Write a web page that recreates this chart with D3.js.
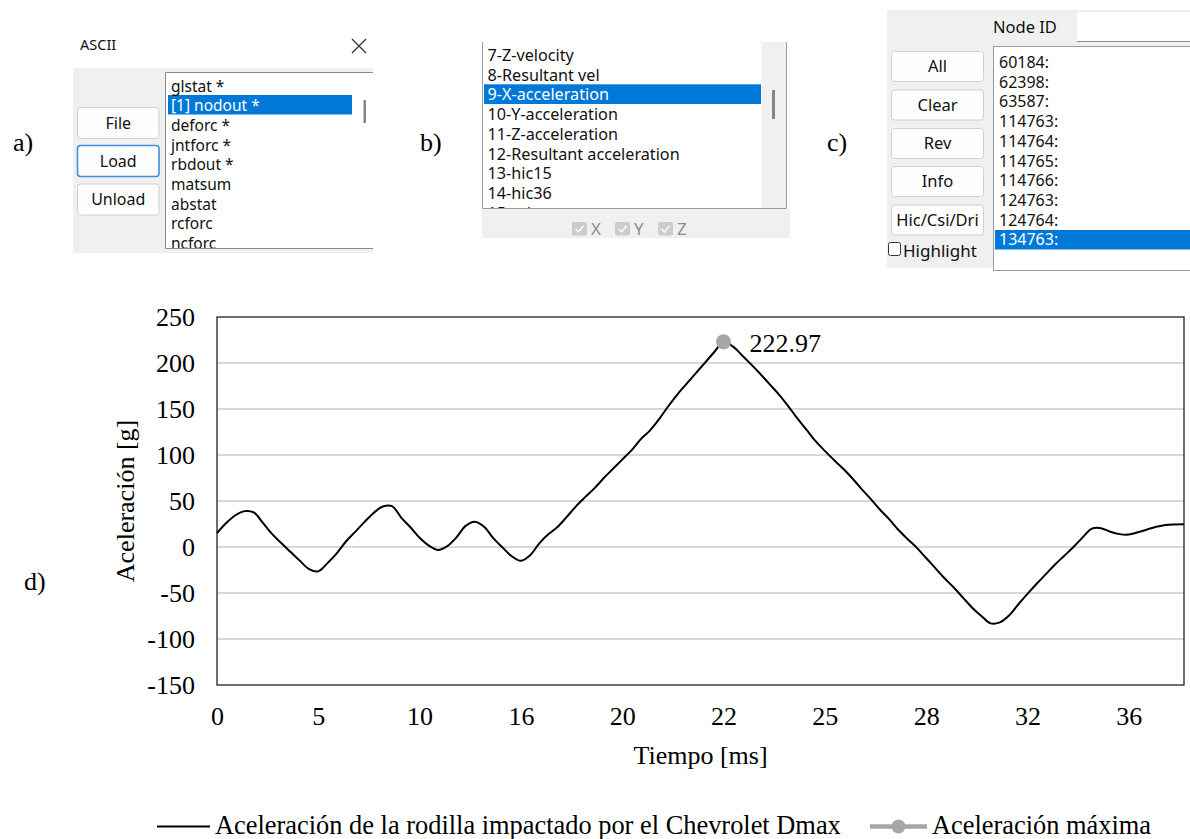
<!DOCTYPE html>
<html>
<head>
<meta charset="utf-8">
<script src="https://cdn.jsdelivr.net/npm/d3@7"></script>
<style>
  html, body { margin: 0; padding: 0; background: #fff; }
  svg { display: block; }
  .ui { font-family: "Noto Sans", "Open Sans", sans-serif; }
  .serif { font-family: "Liberation Serif", "Times New Roman", serif; }
</style>
</head>
<body>
<svg id="fig" width="1190" height="839"></svg>
<script>
// ---- data ----
const asciiFiles = ["glstat *", "[1] nodout *", "deforc *", "jntforc *", "rbdout *", "matsum", "abstat", "rcforc", "ncforc"];
const asciiSelected = 1;
const asciiButtons = ["File", "Load", "Unload"];

const nodoutComponents = ["7-Z-velocity", "8-Resultant vel", "9-X-acceleration", "10-Y-acceleration",
  "11-Z-acceleration", "12-Resultant acceleration", "13-hic15", "14-hic36", "15-csi"];
const componentSelected = 2;
const axesChecks = ["X", "Y", "Z"];

const nodeIds = ["60184:", "62398:", "63587:", "114763:", "114764:", "114765:", "114766:", "124763:", "124764:", "134763:"];
const nodeSelected = 9;
const nodeButtons = ["All", "Clear", "Rev", "Info", "Hic/Csi/Dri"];

// knee acceleration [g], one value per output step
const accel = [
  15, 26, 34.5, 39, 37.5, 26, 14, 4, -5.5, -15,
  -24, -26.5, -17.5, -7, 6, 16.5, 27, 37, 44, 44.5,
  32, 21.5, 10, 1.5, -3.3, 1, 10.5, 23, 27.5, 22,
  9.6, -0.5, -10, -15, -9, 4, 14, 22, 33, 44.5,
  54.5, 64, 75, 85, 95, 105, 117, 126.5, 139, 153,
  166, 177.5, 189, 200.5, 212, 222.97, 218, 208.5, 198.5, 188,
  177, 166, 153.5, 140, 127.5, 115, 104.5, 94.5, 85, 74.5,
  63, 52, 40.5, 30, 18.5, 8.5, -1, -12, -23, -34,
  -44, -55, -66, -75, -83, -82, -74.5, -62.5, -51, -40,
  -29.5, -19, -9.5, 0, 10.5, 20, 20.5, 16.5, 14, 13.5,
  16, 19, 22, 24, 24.5, 24.6
];
// time labels shown every `labelEvery` steps
const timeLabels = ["0", "5", "10", "16", "20", "22", "25", "28", "32", "36"];
const labelEvery = 11;
const yTicks = [-150, -100, -50, 0, 50, 100, 150, 200, 250];

const svg = d3.select("#fig");

// ---- helpers for the dialog snippets ----
const BLUE = "#0078d7";
function buttons(g, labels, x, ys, w, h, focusIndex, fs) {
  const b = g.selectAll("g.btn").data(labels).join("g").attr("class", "btn")
    .attr("transform", (d, i) => `translate(${x},${ys[i]})`);
  b.append("rect").attr("width", w).attr("height", h).attr("rx", 3)
    .attr("fill", "#fdfdfd")
    .attr("stroke", (d, i) => i === focusIndex ? "#3f8fdc" : "#d0d0d0")
    .attr("stroke-width", (d, i) => i === focusIndex ? 1.6 : 1);
  b.append("text").attr("class", "ui").attr("x", w / 2).attr("y", h / 2 + fs * 0.36)
    .attr("text-anchor", "middle").attr("font-size", fs).attr("fill", "#111").text(d => d);
}
function listItems(g, items, x, y0, step, sel, hl, clipId, fs) {
  const gl = g.append("g").attr("clip-path", `url(#${clipId})`);
  gl.append("rect").attr("x", hl.x).attr("y", hl.y).attr("width", hl.w).attr("height", hl.h).attr("fill", BLUE);
  gl.selectAll("text").data(items).join("text").attr("class", "ui")
    .attr("x", x).attr("y", (d, i) => y0 + i * step)
    .attr("font-size", fs).attr("fill", (d, i) => i === sel ? "#fff" : "#111").text(d => d);
}
const defs = svg.append("defs");

// ---- a) ASCII file list ----
const ga = svg.append("g");
ga.append("text").attr("class", "serif").attr("x", 13).attr("y", 151).attr("font-size", 26).text("a)");
ga.append("text").attr("class", "ui").attr("x", 80).attr("y", 50).attr("font-size", 14.5).attr("fill", "#111").text("ASCII");
ga.append("path").attr("d", "M352,39L366,53M366,39L352,53").attr("stroke", "#333").attr("stroke-width", 1.3);
ga.append("rect").attr("x", 73).attr("y", 68).attr("width", 300).attr("height", 185).attr("fill", "#f0f0f0");
ga.append("rect").attr("x", 165.5).attr("y", 72.5).attr("width", 207.5).attr("height", 176).attr("fill", "#fff");
ga.append("path").attr("d", "M165.5,248.5V72.5H373M165.5,248.5H373").attr("fill", "none").attr("stroke", "#8a8a8a");
defs.append("clipPath").attr("id", "clipA").append("rect").attr("x", 166).attr("y", 73).attr("width", 206).attr("height", 175);
listItems(ga, asciiFiles, 171, 91.5, 19.7, asciiSelected, { x: 168, y: 95, w: 184, h: 19.5 }, "clipA", 15.5);
ga.append("rect").attr("x", 363.5).attr("y", 100).attr("width", 2.5).attr("height", 23).attr("fill", "#858585");
buttons(ga, asciiButtons, 77.5, [107.5, 145.5, 184], 81.5, 31, 1, 16);

// ---- b) nodout component list ----
const gb = svg.append("g");
gb.append("text").attr("class", "serif").attr("x", 420).attr("y", 151).attr("font-size", 26).text("b)");
gb.append("rect").attr("x", 482).attr("y", 42).attr("width", 305).attr("height", 166).attr("fill", "#fff");
gb.append("rect").attr("x", 761.5).attr("y", 42).attr("width", 25).attr("height", 166).attr("fill", "#f0f0f0");
gb.append("path").attr("d", "M482.5,42V208.5H786.5V42").attr("fill", "none").attr("stroke", "#9a9a9a");
gb.append("rect").attr("x", 482).attr("y", 209).attr("width", 308).attr("height", 29).attr("fill", "#f0f0f0");
defs.append("clipPath").attr("id", "clipB").append("rect").attr("x", 483).attr("y", 42).attr("width", 278).attr("height", 166);
listItems(gb, nodoutComponents, 487.5, 61, 19.7, componentSelected, { x: 484, y: 84.3, w: 277, h: 19.7 }, "clipB", 16.2);
gb.append("rect").attr("x", 772).attr("y", 90).attr("width", 3).attr("height", 29).attr("fill", "#858585");
const chk = gb.selectAll("g.chk").data(axesChecks).join("g").attr("class", "chk")
  .attr("transform", (d, i) => `translate(${572 + i * 43},222)`);
chk.append("rect").attr("width", 15).attr("height", 13.5).attr("rx", 2).attr("fill", "#cccccc");
chk.append("path").attr("d", "M3.5,7L6.5,10L11.5,4").attr("fill", "none").attr("stroke", "#fff").attr("stroke-width", 1.4);
chk.append("text").attr("class", "ui").attr("x", 19).attr("y", 13).attr("font-size", 17).attr("fill", "#8c8c8c").text(d => d);

// ---- c) node selection ----
const gc = svg.append("g");
gc.append("text").attr("class", "serif").attr("x", 827).attr("y", 151).attr("font-size", 26).text("c)");
gc.append("rect").attr("x", 887).attr("y", 10).attr("width", 303).attr("height", 258).attr("fill", "#f0f0f0");
gc.append("text").attr("class", "ui").attr("x", 993).attr("y", 33).attr("font-size", 16.5).attr("fill", "#111").text("Node ID");
gc.append("rect").attr("x", 1077).attr("y", 12).attr("width", 113).attr("height", 30).attr("fill", "#fff");
gc.append("line").attr("x1", 1077).attr("x2", 1190).attr("y1", 41.5).attr("y2", 41.5).attr("stroke", "#8a8a8a");
gc.append("rect").attr("x", 993.5).attr("y", 46.5).attr("width", 200).attr("height", 224).attr("fill", "#fff").attr("stroke", "#9a9a9a");
defs.append("clipPath").attr("id", "clipC").append("rect").attr("x", 994).attr("y", 47).attr("width", 196).attr("height", 222);
listItems(gc, nodeIds, 999, 68, 19.7, nodeSelected, { x: 995, y: 230, w: 195, h: 19.5 }, "clipC", 16);
buttons(gc, nodeButtons, 891.5, [51.5, 90, 128.5, 166.5, 205], 92, 30, -1, 16.5);
gc.append("rect").attr("x", 888.5).attr("y", 242.5).attr("width", 12).attr("height", 13).attr("rx", 2)
  .attr("fill", "#fff").attr("stroke", "#333");
gc.append("text").attr("class", "ui").attr("x", 903).attr("y", 256.5).attr("font-size", 17).attr("fill", "#111").text("Highlight");

// ---- d) acceleration chart ----
const plot = { left: 217, right: 1184, top: 317, bottom: 685 };
const x = d3.scaleLinear().domain([0, accel.length - 1]).range([plot.left, plot.right]);
const y = d3.scaleLinear().domain([-150, 250]).range([plot.bottom, plot.top]);

const gd = svg.append("g").attr("class", "serif");
gd.append("text").attr("x", 24).attr("y", 590).attr("font-size", 26).text("d)");

// horizontal gridlines
gd.append("g").selectAll("line").data(yTicks.filter(v => v > -150 && v < 250)).join("line")
  .attr("x1", plot.left).attr("x2", plot.right).attr("y1", d => y(d)).attr("y2", d => y(d))
  .attr("stroke", "#d9d9d9").attr("stroke-width", 2);

// plot frame
gd.append("rect").attr("x", plot.left).attr("y", plot.top)
  .attr("width", plot.right - plot.left).attr("height", plot.bottom - plot.top)
  .attr("fill", "none").attr("stroke", "#222").attr("stroke-width", 1.3);

// axes (labels only)
const yAxis = gd.append("g").attr("transform", `translate(${plot.left},0)`)
  .call(d3.axisLeft(y).tickValues(yTicks).tickSize(0).tickPadding(22).tickFormat(d => String(d)));
const xAxis = gd.append("g").attr("transform", `translate(0,${plot.bottom})`)
  .call(d3.axisBottom(x).tickValues(timeLabels.map((d, i) => i * labelEvery)).tickSize(0).tickPadding(22)
    .tickFormat((d, i) => timeLabels[i]));
[yAxis, xAxis].forEach(a => {
  a.select(".domain").remove();
  a.selectAll("text").attr("font-family", "Liberation Serif, Times New Roman, serif")
    .attr("font-size", 26).attr("fill", "#000");
});

gd.append("text").attr("x", (plot.left + plot.right) / 2).attr("y", 764).attr("text-anchor", "middle")
  .attr("font-size", 26).text("Tiempo [ms]");
gd.append("text").attr("transform", `translate(134,${(plot.top + plot.bottom) / 2}) rotate(-90)`)
  .attr("text-anchor", "middle").attr("font-size", 26).text("Aceleración [g]");

// acceleration curve
const line = d3.line().x((d, i) => x(i)).y(d => y(d)).curve(d3.curveCatmullRom.alpha(0.5));
gd.append("path").datum(accel).attr("d", line).attr("fill", "none")
  .attr("stroke", "#000").attr("stroke-width", 2).attr("stroke-linejoin", "round");

// maximum
const iMax = d3.maxIndex(accel);
gd.append("circle").attr("cx", x(iMax)).attr("cy", y(accel[iMax])).attr("r", 7.5).attr("fill", "#a6a6a6");
gd.append("text").attr("x", x(iMax) + 26).attr("y", y(accel[iMax]) + 10).attr("font-size", 26)
  .text(d3.format(".2f")(accel[iMax]));

// legend
const lg = gd.append("g");
lg.append("line").attr("x1", 157).attr("x2", 210).attr("y1", 826.5).attr("y2", 826.5).attr("stroke", "#000").attr("stroke-width", 2);
lg.append("text").attr("x", 215).attr("y", 834).attr("font-size", 26.4).text("Aceleración de la rodilla impactado por el Chevrolet Dmax");
lg.append("line").attr("x1", 870).attr("x2", 927).attr("y1", 826.5).attr("y2", 826.5).attr("stroke", "#a6a6a6").attr("stroke-width", 4.5);
lg.append("circle").attr("cx", 898.5).attr("cy", 826.5).attr("r", 7).attr("fill", "#a6a6a6");
lg.append("text").attr("x", 932).attr("y", 834).attr("font-size", 26.4).text("Aceleración máxima");
</script>
</body>
</html>
